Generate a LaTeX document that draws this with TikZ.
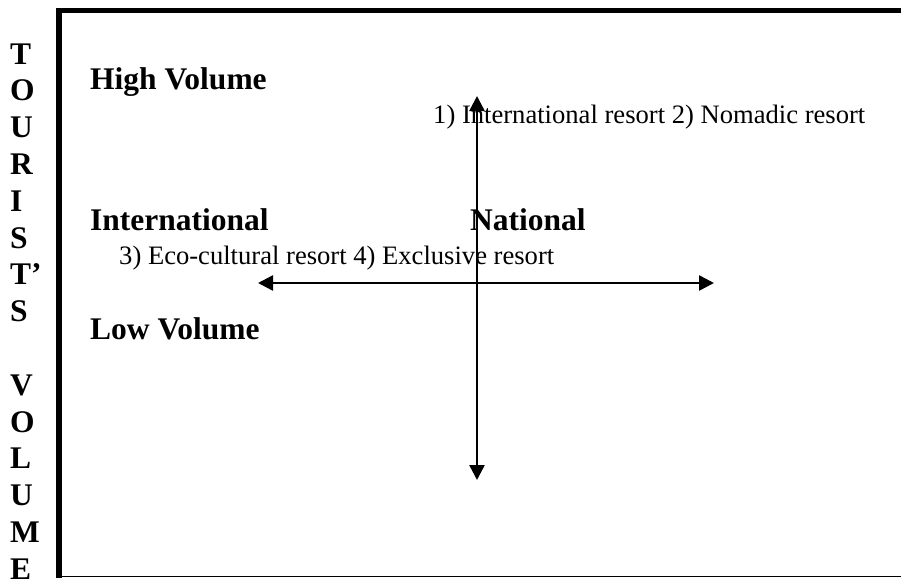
\documentclass[tikz,border=0pt]{standalone}
\usepackage{fontspec}
\setmainfont{Liberation Serif}
\usetikzlibrary{arrows.meta}
\begin{document}
\begin{tikzpicture}[x=1pt,y=-1pt,
  big/.style={font=\fontsize{31.5}{36}\selectfont\bfseries, inner sep=0pt, anchor=base west},
  small/.style={font=\fontsize{26.6}{32}\selectfont, inner sep=0pt, anchor=base west},
  axis/.style={line width=2.5pt, {Triangle[length=15pt,width=15pt]}-{Triangle[length=15pt,width=15pt]}},
  frame/.style={line width=5.5pt},
  thinframe/.style={line width=1.5pt}]
\useasboundingbox (0,0) rectangle (901,578);
\fill[white] (0,0) rectangle (901,578);
% frame
\coordinate (fbl) at (59,578);
\coordinate (ftl) at (59,10.5);
\coordinate (ftr) at (901,10.5);
\coordinate (bl) at (62,576.6);
\coordinate (br) at (901,576.6);
\draw[frame] (fbl) -- (ftl) -- (ftr);
\draw[thinframe] (bl) -- (br);
% vertical letters
\foreach \l/\i in {T/0,O/1,U/2,R/3,I/4,S/5,T’/6,S/7,V/9,O/10,L/11,U/12,M/13,E/14}
  \node[big] (v\i) at (10, 64+36.8*\i) {\l};
% labels
\node[big] (hv) at (90,89) {High Volume};
\node[small] (q12) at (433,123) {1) International resort 2) Nomadic resort};
\node[big] (intl) at (90,230) {International};
\node[big] (natl) at (470,230) {National};
\node[small] (q34) at (119,264) {3) Eco-cultural resort 4) Exclusive resort};
\node[big] (lv) at (90,339) {Low Volume};
% axes
\coordinate (vt) at (477,96);
\coordinate (vb) at (477,480);
\coordinate (hl) at (258,283);
\coordinate (hr) at (714,283);
\draw[axis] (hl) -- (hr);
\draw[axis] (vb) -- (vt);
\end{tikzpicture}
\end{document}
